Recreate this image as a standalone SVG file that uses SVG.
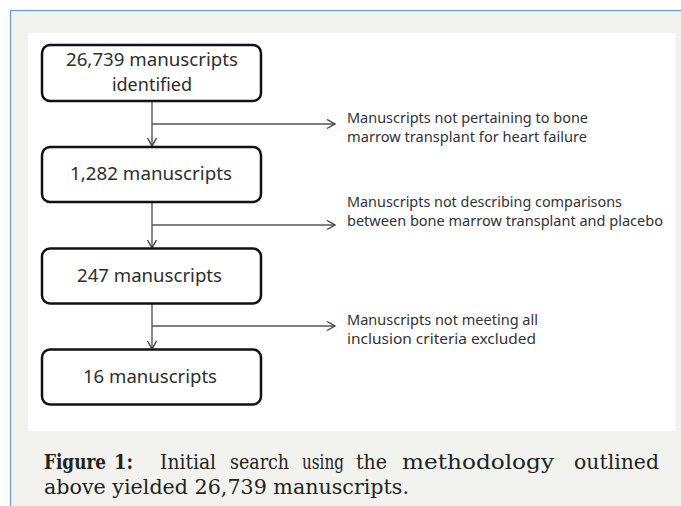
<svg xmlns="http://www.w3.org/2000/svg" width="681" height="506" viewBox="0 0 681 506">
<style>
.box{fill:#fff;stroke:#111;stroke-width:2.5}
.bt{font-family:"Noto Sans","Open Sans",sans-serif;font-size:18px;fill:#2e2e2e;text-anchor:middle}
.lt{font-family:"Noto Sans","Open Sans",sans-serif;font-size:13.5px;fill:#333}
.cn{fill:none;stroke:#555;stroke-width:1.4}
.cap{font-family:"DejaVu Serif","Liberation Serif",serif;font-size:19.5px;fill:#222}
</style>
<defs>
<marker id="ah" markerUnits="userSpaceOnUse" markerWidth="12" markerHeight="12" refX="9" refY="5" orient="auto">
<path d="M1,0.5 L9,5 L1,9.5" fill="none" stroke="#444" stroke-width="1.4"/>
</marker>
</defs>
<rect x="0" y="0" width="681" height="506" fill="#fff"/>
<rect x="10.5" y="10.5" width="672" height="500" fill="#f2f2ee" stroke="#6f9fdc" stroke-width="1.3"/>
<rect x="28" y="33" width="647" height="398" fill="#fff"/>

<g id="connectors">
<path class="cn" d="M152,102 V146" marker-end="url(#ah)"/>
<path class="cn" d="M152,124 H335" marker-end="url(#ah)"/>
<path class="cn" d="M152,203 V248" marker-end="url(#ah)"/>
<path class="cn" d="M152,225 H335" marker-end="url(#ah)"/>
<path class="cn" d="M152,304 V349" marker-end="url(#ah)"/>
<path class="cn" d="M152,326 H335" marker-end="url(#ah)"/>
</g>

<g id="n1">
<rect class="box" x="42" y="45" width="219" height="56" rx="8"/>
<text class="bt" x="152" y="66" textLength="172" lengthAdjust="spacingAndGlyphs">26,739 manuscripts</text>
<text class="bt" x="152" y="91">identified</text>
</g>
<g id="n2">
<rect class="box" x="42" y="147" width="219" height="55" rx="8"/>
<text class="bt" x="151" y="180" textLength="162" lengthAdjust="spacingAndGlyphs">1,282 manuscripts</text>
</g>
<g id="n3">
<rect class="box" x="42" y="248.5" width="219" height="55" rx="8"/>
<text class="bt" x="149.5" y="281.5" textLength="145" lengthAdjust="spacingAndGlyphs">247 manuscripts</text>
</g>
<g id="n4">
<rect class="box" x="42" y="349.5" width="219" height="55" rx="8"/>
<text class="bt" x="150" y="383" textLength="134" lengthAdjust="spacingAndGlyphs">16 manuscripts</text>
</g>

<g id="l1">
<text class="lt" x="347" y="123" textLength="241" lengthAdjust="spacingAndGlyphs">Manuscripts not pertaining to bone</text>
<text class="lt" x="347" y="142" textLength="240" lengthAdjust="spacingAndGlyphs">marrow transplant for heart failure</text>
</g>
<g id="l2">
<text class="lt" x="347" y="206.5" textLength="275" lengthAdjust="spacingAndGlyphs">Manuscripts not describing comparisons</text>
<text class="lt" x="347" y="225.5" textLength="316" lengthAdjust="spacingAndGlyphs">between bone marrow transplant and placebo</text>
</g>
<g id="l3">
<text class="lt" x="347" y="325" textLength="191" lengthAdjust="spacingAndGlyphs">Manuscripts not meeting all</text>
<text class="lt" x="347" y="344" textLength="189" lengthAdjust="spacingAndGlyphs">inclusion criteria excluded</text>
</g>

<g id="caption">
<text class="cap" x="44" y="469" font-weight="bold" textLength="62" lengthAdjust="spacingAndGlyphs">Figure</text>
<text class="cap" x="114" y="469" font-weight="bold" textLength="19" lengthAdjust="spacingAndGlyphs">1:</text>
<text class="cap" x="160" y="469" textLength="56" lengthAdjust="spacingAndGlyphs">Initial</text>
<text class="cap" x="230" y="469" textLength="59" lengthAdjust="spacingAndGlyphs">search</text>
<text class="cap" x="302" y="469" textLength="42" lengthAdjust="spacingAndGlyphs">using</text>
<text class="cap" x="356" y="469" textLength="31" lengthAdjust="spacingAndGlyphs">the</text>
<text class="cap" x="402" y="469" textLength="152" lengthAdjust="spacingAndGlyphs">methodology</text>
<text class="cap" x="574" y="469" textLength="85" lengthAdjust="spacingAndGlyphs">outlined</text>
<text class="cap" x="44" y="494" textLength="365" lengthAdjust="spacingAndGlyphs">above yielded 26,739 manuscripts.</text>
</g>
</svg>
